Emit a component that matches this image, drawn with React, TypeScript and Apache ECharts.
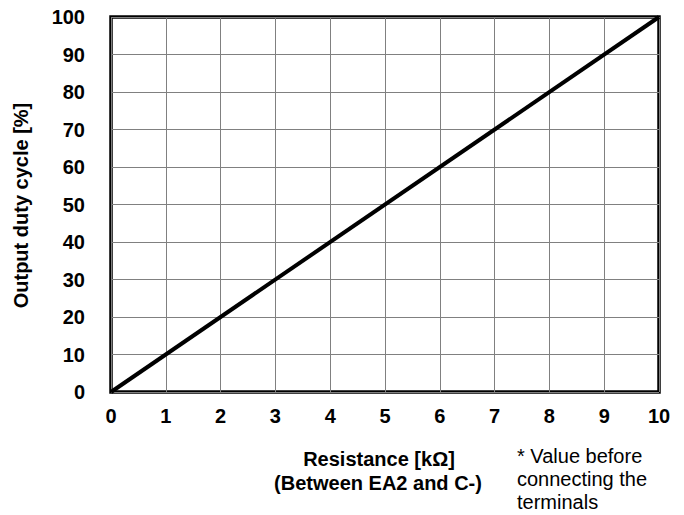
import React, { useEffect, useRef } from "react";
import * as echarts from "echarts";

const resistance = [0, 10];
const dutyCycle = [0, 100];
const xTicks = [0, 1, 2, 3, 4, 5, 6, 7, 8, 9, 10];
const yTicks = [0, 10, 20, 30, 40, 50, 60, 70, 80, 90, 100];
const yTitle = "Output duty cycle [%]";
const xTitle1 = "Resistance [kΩ]";
const xTitle2 = "(Between EA2 and C-)";
const noteLines = ["* Value before", "connecting the", "terminals"];

const FONT = "Liberation Sans, Arial, sans-serif";

export default function App() {
  const ref = useRef<HTMLDivElement>(null);
  useEffect(() => {
    if (!ref.current) return;
    const chart = echarts.init(ref.current, null, { renderer: "svg" });
    const L = 111, T = 17, W = 548, H = 375;
    chart.setOption({
      animation: false,
      backgroundColor: "#ffffff",
      grid: {
        left: L, top: T, width: W, height: H,
        show: true, borderWidth: 3.5, borderColor: "#000", backgroundColor: "transparent",
      },
      xAxis: {
        type: "value", min: xTicks[0], max: xTicks[xTicks.length - 1], interval: 1,
        axisLine: { show: false }, axisTick: { show: false },
        splitLine: { show: true, lineStyle: { color: "#808080", width: 1 } },
        axisLabel: { margin: 14, color: "#000", fontWeight: "bold", fontSize: 20, fontFamily: FONT },
      },
      yAxis: {
        type: "value", min: yTicks[0], max: yTicks[yTicks.length - 1], interval: 10,
        axisLine: { show: false }, axisTick: { show: false },
        splitLine: { show: true, lineStyle: { color: "#808080", width: 1 } },
        axisLabel: { margin: 26, color: "#000", fontWeight: "bold", fontSize: 20, fontFamily: FONT },
      },
      series: [{
        type: "line",
        data: resistance.map((x, i) => [x, dutyCycle[i]]),
        symbol: "none",
        lineStyle: { color: "#000", width: 4 },
        z: 5,
      }],
      graphic: [
        {
          type: "text", x: 21, y: T + H / 2 + 1, rotation: Math.PI / 2,
          style: { text: yTitle, fill: "#000", font: `bold 20px ${FONT}`, align: "center", verticalAlign: "middle" },
        },
        {
          type: "text", x: 379, y: 459,
          style: { text: xTitle1, fill: "#000", font: `bold 20px ${FONT}`, align: "center", verticalAlign: "middle" },
        },
        {
          type: "text", x: 378, y: 483,
          style: { text: xTitle2, fill: "#000", font: `bold 20px ${FONT}`, align: "center", verticalAlign: "middle" },
        },
        ...noteLines.map((t, i) => ({
          type: "text", x: 517, y: 456 + i * 23,
          style: { text: t, fill: "#000", font: `20px ${FONT}`, align: "left", verticalAlign: "middle" },
        })),
      ],
    });
    return () => chart.dispose();
  }, []);
  return <div ref={ref} style={{ width: 684, height: 515, position: "absolute", left: 0, top: 0 }} />;
}
